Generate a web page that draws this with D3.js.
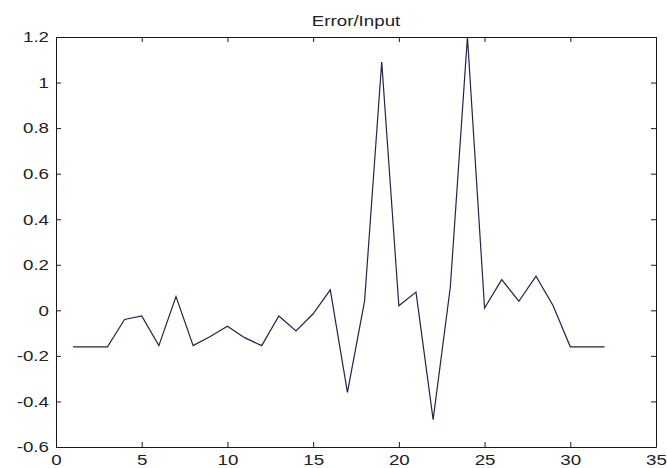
<!DOCTYPE html>
<html>
<head>
<meta charset="utf-8">
<script src="https://cdn.jsdelivr.net/npm/d3@7"></script>
<style>
  html, body { margin: 0; padding: 0; background: #ffffff; }
  svg { display: block; }
</style>
</head>
<body>
<svg id="chart" width="667" height="468"></svg>
<script>
// ---- data ----
const xValues = [1,2,3,4,5,6,7,8,9,10,11,12,13,14,15,16,17,18,19,20,21,22,23,24,25,26,27,28,29,30,31,32];
const errorValues = [-0.16,-0.16,-0.16,-0.04,-0.025,-0.155,0.06,-0.155,-0.115,-0.07,-0.12,-0.155,-0.025,-0.09,-0.015,0.09,-0.36,0.04,1.09,0.02,0.08,-0.48,0.10,1.2,0.01,0.135,0.04,0.15,0.02,-0.16,-0.16,-0.16];
const xTicks = [0,5,10,15,20,25,30,35];
const yTicks = [-0.6,-0.4,-0.2,0,0.2,0.4,0.6,0.8,1,1.2];
const titleText = "Error/Input";

// ---- layout ----
const L = 56, R = 656, T = 37, B = 447;
const stretch = 1.25;
const fontSize = "15px";
const font = "'Liberation Sans', Arial, Helvetica, sans-serif";
const svg = d3.select("#chart");

const x = d3.scaleLinear().domain([0, 35]).range([L, R]);
const y = d3.scaleLinear().domain([-0.6, 1.2]).range([B, T]);

const fmt = d => (d === 0 ? "0" : String(+d.toFixed(1)));

function styleAxis(g) {
  g.selectAll("path.domain").attr("stroke", "#1a1a1a").attr("stroke-width", 1);
  g.selectAll(".tick line").attr("stroke", "#1a1a1a").attr("stroke-width", 1);
  g.selectAll("text").attr("fill", "#222").style("font-family", font).style("font-size", fontSize);
}

// bottom axis
const gB = svg.append("g").attr("transform", `translate(0,${B})`)
  .call(d3.axisBottom(x).tickValues(xTicks).tickFormat(d => d).tickSizeInner(-5).tickSizeOuter(0).tickPadding(7));
styleAxis(gB);
gB.selectAll(".tick text").attr("transform", `scale(${stretch},1)`);

// top axis (no labels)
const gT = svg.append("g").attr("transform", `translate(0,${T})`)
  .call(d3.axisTop(x).tickValues(xTicks).tickFormat("").tickSizeInner(-5).tickSizeOuter(0));
styleAxis(gT);

// left axis
const gL = svg.append("g").attr("transform", `translate(${L},0)`)
  .call(d3.axisLeft(y).tickValues(yTicks).tickFormat(fmt).tickSizeInner(-5).tickSizeOuter(0).tickPadding(7));
styleAxis(gL);
gL.selectAll(".tick text").attr("x", -7 / stretch).attr("transform", `scale(${stretch},1)`);

// right axis (no labels)
const gR = svg.append("g").attr("transform", `translate(${R},0)`)
  .call(d3.axisRight(y).tickValues(yTicks).tickFormat("").tickSizeInner(-5).tickSizeOuter(0));
styleAxis(gR);

// line
const line = d3.line().x((d, i) => x(xValues[i])).y(d => y(d));
svg.append("path")
  .datum(errorValues)
  .attr("d", line)
  .attr("fill", "none")
  .attr("stroke", "#23234a")
  .attr("stroke-width", 1.2)
  .attr("stroke-linejoin", "miter");

// title
svg.append("text")
  .attr("transform", `translate(${(L + R) / 2},26) scale(${stretch},1)`)
  .attr("text-anchor", "middle")
  .attr("fill", "#222")
  .style("font-family", font)
  .style("font-size", fontSize)
  .text(titleText);
</script>
</body>
</html>
